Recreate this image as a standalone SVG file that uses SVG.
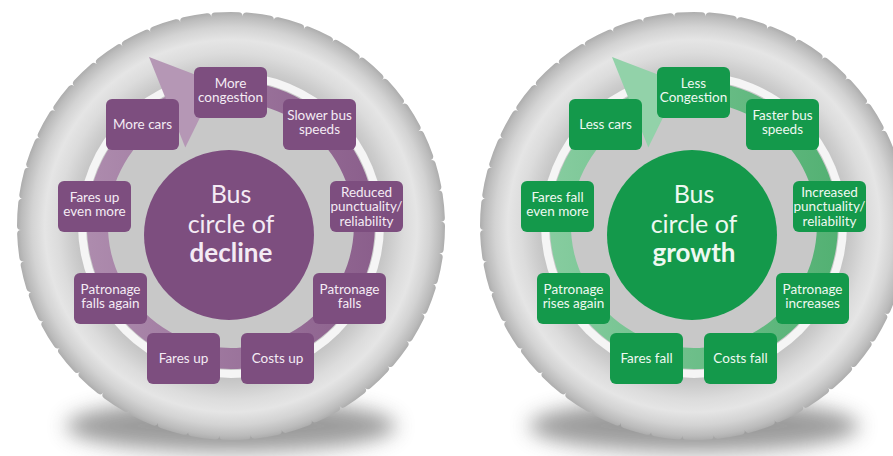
<svg xmlns="http://www.w3.org/2000/svg" width="893" height="456" viewBox="0 0 893 456">
  <style>
    .t{font-family:Lato,"Open Sans","DejaVu Sans",sans-serif;font-size:13.5px;text-anchor:middle}
    .tp{fill:#f4ebf4}
    .tg{fill:#eef8f1}
    .c{font-family:Lato,"Open Sans","DejaVu Sans",sans-serif;font-size:25px;text-anchor:middle}
    .cb{font-weight:bold;font-size:26px}
    .bp{fill:#7d4e7f}
    .bg{fill:#14994b}
  </style>
  <defs>
    <radialGradient id="tire" gradientUnits="userSpaceOnUse" cx="231" cy="226" r="214">
      <stop offset="0.70" stop-color="#c2c2c2"/>
      <stop offset="0.75" stop-color="#cdcdcd"/>
      <stop offset="0.81" stop-color="#dcdcdc"/>
      <stop offset="0.87" stop-color="#e5e5e5"/>
      <stop offset="0.93" stop-color="#d3d3d3"/>
      <stop offset="0.98" stop-color="#bbbbbb"/>
      <stop offset="1" stop-color="#adadad"/>
    </radialGradient>
    <linearGradient id="bandP" gradientUnits="userSpaceOnUse" x1="90" y1="0" x2="380" y2="0">
      <stop offset="0" stop-color="#ad8bad"/>
      <stop offset="1" stop-color="#8a5e8b"/>
    </linearGradient>
    <linearGradient id="bandG" gradientUnits="userSpaceOnUse" x1="90" y1="0" x2="380" y2="0">
      <stop offset="0" stop-color="#86cc9f"/>
      <stop offset="1" stop-color="#52b072"/>
    </linearGradient>
    <filter id="blur" x="-30%" y="-100%" width="160%" height="300%">
      <feGaussianBlur stdDeviation="10"/>
    </filter>
  </defs>

  <rect width="893" height="456" fill="#ffffff"/>

  <!-- LEFT WHEEL: decline -->
  <g id="wheel-decline">
    <g id="tire-decline">
      <ellipse cx="231" cy="426" rx="165" ry="26" fill="#5a5a5a" opacity="0.6" filter="url(#blur)"/>
      <circle cx="231" cy="226" r="210" fill="url(#tire)"/>
      <circle cx="231" cy="226" r="210" fill="none" stroke="url(#tire)" stroke-width="8" stroke-linecap="round" stroke-dasharray="23.4 8"/>
      <circle cx="231" cy="225" r="153" fill="#f5f5f5"/>
      <circle cx="231" cy="225" r="145" fill="#c8c8c8"/>
    </g>
    <g id="connectors-decline">
      <path d="M 206.0 83.2 A 144 144 0 1 1 172.4 93.45 L 181.0 112.6 A 123 123 0 1 0 209.64 103.87 Z" fill="url(#bandP)"/>
      <polygon points="149,57 217,83 185.3,147.5" fill="#b597b5"/>
    </g>
    <g id="center-decline">
      <circle cx="229" cy="235" r="85" class="bp"/>
      <text class="c tp" x="231" y="203">Bus</text>
      <text class="c tp" x="231" y="233">circle of</text>
      <text class="c cb tp" x="231" y="262">decline</text>
    </g>
    <g id="d-more-congestion">
      <rect x="194" y="67" width="73" height="51" rx="6" class="bp"/>
      <text class="t tp" x="230.5" y="87.5">More</text>
      <text class="t tp" x="230.5" y="102">congestion</text>
    </g>
    <g id="d-slower-bus-speeds">
      <rect x="283" y="99" width="73" height="51" rx="6" class="bp"/>
      <text class="t tp" x="319.5" y="119.5">Slower bus</text>
      <text class="t tp" x="319.5" y="134">speeds</text>
    </g>
    <g id="d-reduced-punctuality">
      <rect x="330" y="181" width="73" height="51" rx="6" class="bp"/>
      <text class="t tp" x="366.5" y="196.5">Reduced</text>
      <text class="t tp" x="366.5" y="211">punctuality/</text>
      <text class="t tp" x="366.5" y="225.5">reliability</text>
    </g>
    <g id="d-patronage-falls">
      <rect x="313" y="273" width="73" height="51" rx="6" class="bp"/>
      <text class="t tp" x="349.5" y="293.5">Patronage</text>
      <text class="t tp" x="349.5" y="308">falls</text>
    </g>
    <g id="d-costs-up">
      <rect x="241" y="333" width="73" height="51" rx="6" class="bp"/>
      <text class="t tp" x="277.5" y="363">Costs up</text>
    </g>
    <g id="d-fares-up">
      <rect x="147" y="333" width="73" height="51" rx="6" class="bp"/>
      <text class="t tp" x="183.5" y="363">Fares up</text>
    </g>
    <g id="d-patronage-falls-again">
      <rect x="74" y="273" width="73" height="51" rx="6" class="bp"/>
      <text class="t tp" x="110.5" y="293.5">Patronage</text>
      <text class="t tp" x="110.5" y="308">falls again</text>
    </g>
    <g id="d-fares-up-even-more">
      <rect x="58" y="181" width="73" height="51" rx="6" class="bp"/>
      <text class="t tp" x="94.5" y="201.5">Fares up</text>
      <text class="t tp" x="94.5" y="216">even more</text>
    </g>
    <g id="d-more-cars">
      <rect x="106" y="99" width="73" height="51" rx="6" class="bp"/>
      <text class="t tp" x="142.5" y="129">More cars</text>
    </g>
  </g>

  <!-- RIGHT WHEEL: growth -->
  <g id="wheel-growth" transform="translate(463,0)">
    <g id="tire-growth">
      <ellipse cx="231" cy="426" rx="165" ry="26" fill="#5a5a5a" opacity="0.6" filter="url(#blur)"/>
      <circle cx="231" cy="226" r="210" fill="url(#tire)"/>
      <circle cx="231" cy="226" r="210" fill="none" stroke="url(#tire)" stroke-width="8" stroke-linecap="round" stroke-dasharray="23.4 8"/>
      <circle cx="231" cy="225" r="153" fill="#f5f5f5"/>
      <circle cx="231" cy="225" r="145" fill="#c8c8c8"/>
    </g>
    <g id="connectors-growth">
      <path d="M 206.0 83.2 A 144 144 0 1 1 172.4 93.45 L 181.0 112.6 A 123 123 0 1 0 209.64 103.87 Z" fill="url(#bandG)"/>
      <polygon points="149,57 217,83 185.3,147.5" fill="#92d2a9"/>
    </g>
    <g id="center-growth">
      <circle cx="229" cy="235" r="85" class="bg"/>
      <text class="c tg" x="231" y="203">Bus</text>
      <text class="c tg" x="231" y="233">circle of</text>
      <text class="c cb tg" x="231" y="262">growth</text>
    </g>
    <g id="g-less-congestion">
      <rect x="194" y="67" width="73" height="51" rx="6" class="bg"/>
      <text class="t tg" x="230.5" y="87.5">Less</text>
      <text class="t tg" x="230.5" y="102">Congestion</text>
    </g>
    <g id="g-faster-bus-speeds">
      <rect x="283" y="99" width="73" height="51" rx="6" class="bg"/>
      <text class="t tg" x="319.5" y="119.5">Faster bus</text>
      <text class="t tg" x="319.5" y="134">speeds</text>
    </g>
    <g id="g-increased-punctuality">
      <rect x="330" y="181" width="73" height="51" rx="6" class="bg"/>
      <text class="t tg" x="366.5" y="196.5">Increased</text>
      <text class="t tg" x="366.5" y="211">punctuality/</text>
      <text class="t tg" x="366.5" y="225.5">reliability</text>
    </g>
    <g id="g-patronage-increases">
      <rect x="313" y="273" width="73" height="51" rx="6" class="bg"/>
      <text class="t tg" x="349.5" y="293.5">Patronage</text>
      <text class="t tg" x="349.5" y="308">increases</text>
    </g>
    <g id="g-costs-fall">
      <rect x="241" y="333" width="73" height="51" rx="6" class="bg"/>
      <text class="t tg" x="277.5" y="363">Costs fall</text>
    </g>
    <g id="g-fares-fall">
      <rect x="147" y="333" width="73" height="51" rx="6" class="bg"/>
      <text class="t tg" x="183.5" y="363">Fares fall</text>
    </g>
    <g id="g-patronage-rises-again">
      <rect x="74" y="273" width="73" height="51" rx="6" class="bg"/>
      <text class="t tg" x="110.5" y="293.5">Patronage</text>
      <text class="t tg" x="110.5" y="308">rises again</text>
    </g>
    <g id="g-fares-fall-even-more">
      <rect x="58" y="181" width="73" height="51" rx="6" class="bg"/>
      <text class="t tg" x="94.5" y="201.5">Fares fall</text>
      <text class="t tg" x="94.5" y="216">even more</text>
    </g>
    <g id="g-less-cars">
      <rect x="106" y="99" width="73" height="51" rx="6" class="bg"/>
      <text class="t tg" x="142.5" y="129">Less cars</text>
    </g>
  </g>
</svg>
